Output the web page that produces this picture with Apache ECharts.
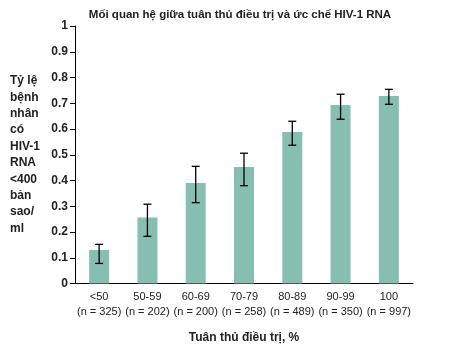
<!DOCTYPE html>
<html>
<head>
<meta charset="utf-8">
<script src="https://cdn.jsdelivr.net/npm/echarts@6/dist/echarts.min.js"></script>
<style>
  html, body { margin: 0; padding: 0; background: #fff; }
  #chart { width: 457px; height: 352px; }
</style>
</head>
<body>
<div id="chart"></div>
<script>
var categories = ['<50', '50-59', '60-69', '70-79', '80-89', '90-99', '100'];
var counts = ['n = 325', 'n = 202', 'n = 200', 'n = 258', 'n = 489', 'n = 350', 'n = 997'];
var values = [0.13, 0.256, 0.39, 0.452, 0.588, 0.693, 0.728];
var errLow = [0.078, 0.183, 0.314, 0.38, 0.537, 0.638, 0.696];
var errHigh = [0.152, 0.308, 0.455, 0.506, 0.63, 0.735, 0.754];

function showChart() {
    var dom = document.getElementById('chart');
    var myChart = echarts.init(dom);

    var errData = categories.map(function (c, i) {
        return [i, errLow[i], errHigh[i]];
    });

    var option = {
        animation: false,
        title: {
            text: 'Mối quan hệ giữa tuân thủ điều trị và ức chế HIV-1 RNA',
            left: 235,
            textAlign: 'center',
            top: 4,
            textStyle: {
                fontFamily: 'Liberation Sans',
                fontSize: 11.5,
                fontWeight: 'bold',
                color: '#222'
            }
        },
        grid: {
            left: 75,
            right: 44,
            top: 26,
            bottom: 68.5,
            containLabel: false
        },
        xAxis: {
            type: 'category',
            data: categories,
            name: 'Tuân thủ điều trị, %',
            nameLocation: 'middle',
            nameGap: 48,
            nameTextStyle: {
                fontFamily: 'Liberation Sans',
                fontSize: 12,
                fontWeight: 'bold',
                color: '#222'
            },
            axisLine: { lineStyle: { color: '#000', width: 1 } },
            axisTick: { length: 5, lineStyle: { color: '#000' } },
            axisLabel: {
                interval: 0,
                fontFamily: 'Liberation Sans',
                fontSize: 11,
                color: '#222',
                lineHeight: 15,
                margin: 6,
                formatter: function (v, i) {
                    return v + '\n(' + counts[i] + ')';
                }
            }
        },
        yAxis: {
            type: 'value',
            min: 0,
            max: 1,
            interval: 0.1,
            name: 'Tỷ lệ\nbệnh\nnhân\ncó\nHIV-1\nRNA\n<400\nbản\nsao/\nml',
            nameLocation: 'middle',
            nameRotate: 0,
            nameGap: 65,
            nameTextStyle: {
                fontFamily: 'Liberation Sans',
                fontSize: 12,
                fontWeight: 'bold',
                color: '#222',
                align: 'left',
                verticalAlign: 'middle',
                lineHeight: 16.4,
                padding: [16, 0, 0, 0]
            },
            axisLine: { show: true, lineStyle: { color: '#000', width: 1 } },
            axisTick: { show: true, length: 5, lineStyle: { color: '#000', width: 1 } },
            splitLine: { show: false },
            axisLabel: {
                fontFamily: 'Liberation Sans',
                fontSize: 12,
                fontWeight: 'bold',
                color: '#222',
                margin: 7
            }
        },
        series: [{
            type: 'bar',
            data: values,
            barWidth: 20,
            itemStyle: { color: '#86BEB2' }
        }, {
            type: 'custom',
            data: errData,
            z: 5,
            renderItem: function (params, api) {
                var x = api.value(0);
                var lo = api.coord([x, api.value(1)]);
                var hi = api.coord([x, api.value(2)]);
                var half = 4;
                var style = { stroke: '#000', lineWidth: 1.3 };
                return {
                    type: 'group',
                    children: [
                        { type: 'line', shape: { x1: lo[0], y1: lo[1], x2: hi[0], y2: hi[1] }, style: style },
                        { type: 'line', shape: { x1: hi[0] - half, y1: hi[1], x2: hi[0] + half, y2: hi[1] }, style: style },
                        { type: 'line', shape: { x1: lo[0] - half, y1: lo[1], x2: lo[0] + half, y2: lo[1] }, style: style }
                    ]
                };
            }
        }]
    };

    myChart.setOption(option, true);

    window.addEventListener('resize', function () {
        myChart.resize();
    });
}

showChart();
</script>
</body>
</html>
